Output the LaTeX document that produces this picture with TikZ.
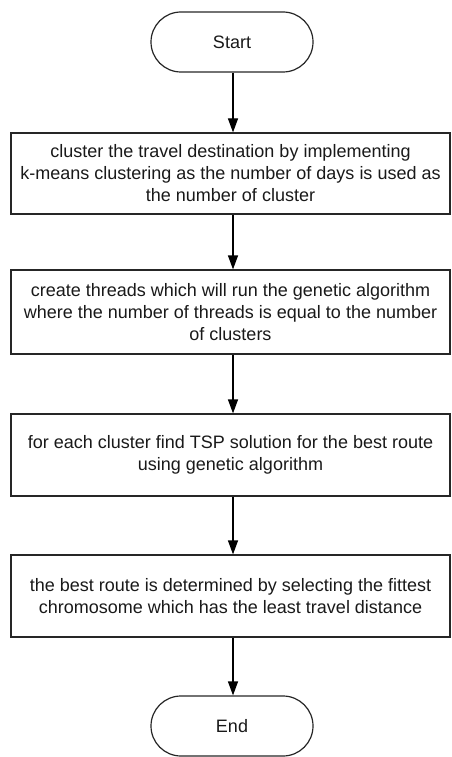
\documentclass[tikz,border=0pt]{standalone}
\usepackage{fontspec}
\setmainfont{Liberation Sans}
\usetikzlibrary{arrows.meta}
\begin{document}
\begin{tikzpicture}[x=1pt,y=-1pt,
  base/.style={draw=black!85,line width=1.2pt,align=center,font=\fontsize{18}{22}\selectfont,text=black!90,inner sep=0pt},
  term/.style={base,rounded corners=30pt,minimum width=162pt,minimum height=60pt},
  procbox/.style={base,minimum width=439pt},
  conn/.style={draw=black,line width=1.2pt,-{Triangle[width=10pt,length=14pt]}}]
\useasboundingbox (0,0) rectangle (451,757);
\node[term] (start) at (232,42) {Start};
\node[procbox,minimum height=81pt] (b1) at (230.5,173.5) {cluster the travel destination by implementing\\k-means clustering as the number of days is used as\\the number of cluster};
\node[procbox,minimum height=84pt] (b2) at (230.5,312) {create threads which will run the genetic algorithm\\where the number of threads is equal to the number\\of clusters};
\node[procbox,minimum height=82pt] (b3) at (230.5,455) {for each cluster find TSP solution for the best route\\using genetic algorithm};
\node[procbox,minimum height=82pt] (b4) at (230.5,596) {the best route is determined by selecting the fittest\\chromosome which has the least travel distance};
\node[term] (end) at (232,726) {End};
\draw[conn] (start.south -| 233,0) -- (b1.north -| 233,0);
\draw[conn] (b1.south -| 233,0) -- (b2.north -| 233,0);
\draw[conn] (b2.south -| 233,0) -- (b3.north -| 233,0);
\draw[conn] (b3.south -| 233,0) -- (b4.north -| 233,0);
\draw[conn] (b4.south -| 233,0) -- (end.north -| 233,0);
\end{tikzpicture}
\end{document}
